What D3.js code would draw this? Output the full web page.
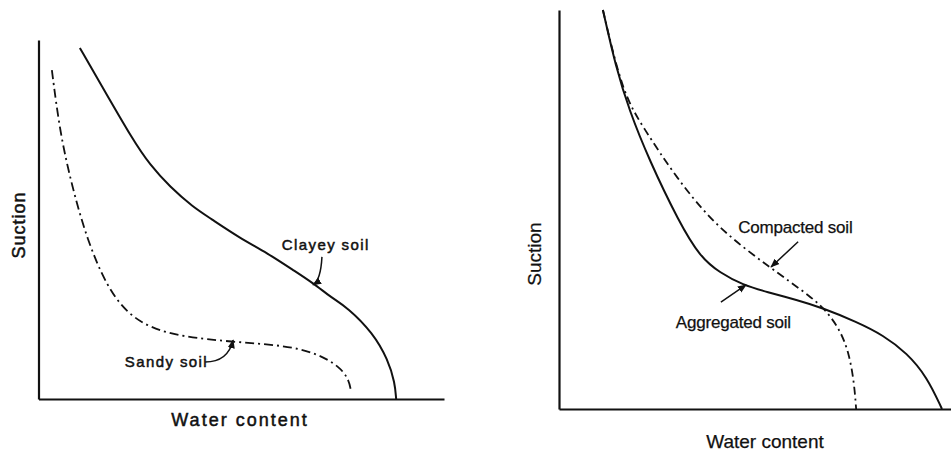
<!DOCTYPE html>
<html>
<head>
<meta charset="utf-8">
<script src="https://cdn.jsdelivr.net/npm/d3@7"></script>
<style>
  body { margin: 0; background: #fff; }
  svg { display: block; }
  text { fill: #111; font-family: "Liberation Sans", Arial, sans-serif; }
</style>
</head>
<body>
<div id="chart"></div>
<script>
// values, both axes in relative units 0..100
const clayeySoil = [
  [10.2, 97.8], [15.2, 88.0], [23.3, 72.1], [27.5, 65.2], [32.4, 59.1],
  [38.1, 53.5], [42.3, 50.4], [49.7, 44.8], [56.4, 40.7], [62.8, 35.9],
  [67.7, 32.3], [72.4, 28.1], [76.1, 25.6], [82.5, 18.4], [86.2, 10.9],
  [87.9, 4.5], [88.2, 0]
]
const sandySoil = [
  [3.3, 91.6], [5.3, 74.1], [8.3, 59.1], [12.0, 44.3], [16.9, 31.2],
  [21.8, 24.0], [27.5, 19.8], [35.6, 17.3], [48.0, 15.9], [60.3, 15.0],
  [68.7, 12.8], [74.4, 8.9], [76.6, 5.3], [77.1, 1.9]
]
const aggregatedSoil = [
  [11.2, 100], [14.5, 85.7], [17.9, 74.9], [23.0, 62.4], [30.6, 46.9],
  [36.0, 38.1], [41.1, 34.1], [46.9, 31.1], [53.1, 29.3], [60.7, 27.3],
  [67.3, 25.3], [76.0, 21.8], [82.7, 18.5], [88.8, 14.0], [93.9, 8.0],
  [97.7, 0]
]
const compactedSoil = [
  [11.2, 100], [16.2, 79.2], [21.4, 70.7], [29.8, 58.1], [40.1, 45.6],
  [53.6, 35.6], [64.8, 27.8], [68.4, 24.3], [71.7, 19.8], [74.0, 14.0],
  [75.3, 6.5], [75.8, 0]
]

// labels: text anchor, arrow tail, (control), arrow tip
const leftLabels = [
  {text: 'Clayey soil', at: [60.0, 41.5], tail: [69.9, 39.6], ctrl: [69.6, 33.1], tip: [67.7, 31.8]},
  {text: 'Sandy soil', at: [21.3, 8.9], tail: [41.1, 10.3], ctrl: [46.7, 10.3], tip: [48.0, 16.4]}
]
const rightLabels = [
  {text: 'Compacted soil', at: [45.7, 44.1], tail: [61.0, 41.9], tip: [54.1, 35.6]},
  {text: 'Aggregated soil', at: [29.8, 20.3], tail: [41.3, 26.8], tip: [47.7, 31.1]}
]

const xTitle = 'Water content'
const yTitle = 'Suction'

const svg = d3.select('#chart').append('svg')
  .attr('width', 951)
  .attr('height', 451)

svg.append('defs').append('marker')
  .attr('id', 'head')
  .attr('viewBox', '0 0 10 10')
  .attr('refX', 9).attr('refY', 5)
  .attr('markerWidth', 9).attr('markerHeight', 9)
  .attr('markerUnits', 'userSpaceOnUse')
  .attr('orient', 'auto')
  .append('path').attr('d', 'M0,1L10,5L0,9z').attr('fill', '#111')

/* one panel: scales, axes, curves, labels */
function panel(opts) {
  const x = d3.scaleLinear().domain([0, 100]).range(opts.xr)
  const y = d3.scaleLinear().domain([0, 100]).range(opts.yr)
  const g = svg.append('g')

  // b-spline smooths out the reading noise of the hand-read points
  const line = d3.line().x(d => x(d[0])).y(d => y(d[1])).curve(d3.curveBasis)

  opts.series.forEach(s => {
    g.append('path')
      .attr('d', line(s.data))
      .attr('fill', 'none')
      .attr('stroke', '#111')
      .attr('stroke-width', s.dash ? 1.8 : 2)
      .attr('stroke-dasharray', s.dash || null)
  })

  g.append('g').attr('transform', `translate(0,${opts.yr[0]})`)
    .call(d3.axisBottom(x).tickValues([]).tickSizeOuter(0))
  g.append('g').attr('transform', `translate(${opts.xr[0]},0)`)
    .call(d3.axisLeft(y).tickValues([]).tickSizeOuter(0))
  g.selectAll('.domain').attr('stroke', '#111').attr('stroke-width', 2.2)

  opts.labels.forEach(l => {
    g.append('text')
      .attr('x', x(l.at[0])).attr('y', y(l.at[1]))
      .attr('font-size', opts.labelSize)
      .attr('letter-spacing', opts.labelSpacing)
      .attr('stroke', '#111')
      .attr('stroke-width', opts.textStroke)
      .text(l.text)
    const p = d3.path()
    p.moveTo(x(l.tail[0]), y(l.tail[1]))
    if (l.ctrl) p.quadraticCurveTo(x(l.ctrl[0]), y(l.ctrl[1]), x(l.tip[0]), y(l.tip[1]))
    else p.lineTo(x(l.tip[0]), y(l.tip[1]))
    g.append('path')
      .attr('d', p.toString())
      .attr('fill', 'none')
      .attr('stroke', '#111')
      .attr('stroke-width', 1.5)
      .attr('marker-end', 'url(#head)')
  })

  g.append('text')
    .attr('x', opts.xTitle[0]).attr('y', opts.xTitle[1])
    .attr('text-anchor', 'middle')
    .attr('font-size', opts.titleSize)
    .attr('letter-spacing', opts.titleSpacing)
    .attr('stroke', '#111')
    .attr('stroke-width', opts.textStroke)
    .text(xTitle)
  g.append('text')
    .attr('transform', `translate(${opts.yTitle[0]},${opts.yTitle[1]}) rotate(-90)`)
    .attr('text-anchor', 'middle')
    .attr('font-size', opts.titleSize)
    .attr('letter-spacing', opts.titleSpacing / 2)
    .attr('stroke', '#111')
    .attr('stroke-width', opts.textStroke)
    .text(yTitle)
}

panel({
  xr: [38.5, 444], yr: [399, 40],
  series: [{data: clayeySoil}, {data: sandySoil, dash: '9,4,2,4'}],
  labels: leftLabels,
  labelSize: 15, labelSpacing: 1.4, textStroke: 0.5,
  titleSize: 18, titleSpacing: 2,
  xTitle: [240, 426], yTitle: [25, 225]
})

panel({
  xr: [559, 951], yr: [409, 10],
  series: [{data: aggregatedSoil}, {data: compactedSoil, dash: '8,4,2,4'}],
  labels: rightLabels,
  labelSize: 17, labelSpacing: -0.2, textStroke: 0.25,
  titleSize: 19, titleSpacing: 0,
  xTitle: [765, 448], yTitle: [541, 254]
})
</script>
</body>
</html>
